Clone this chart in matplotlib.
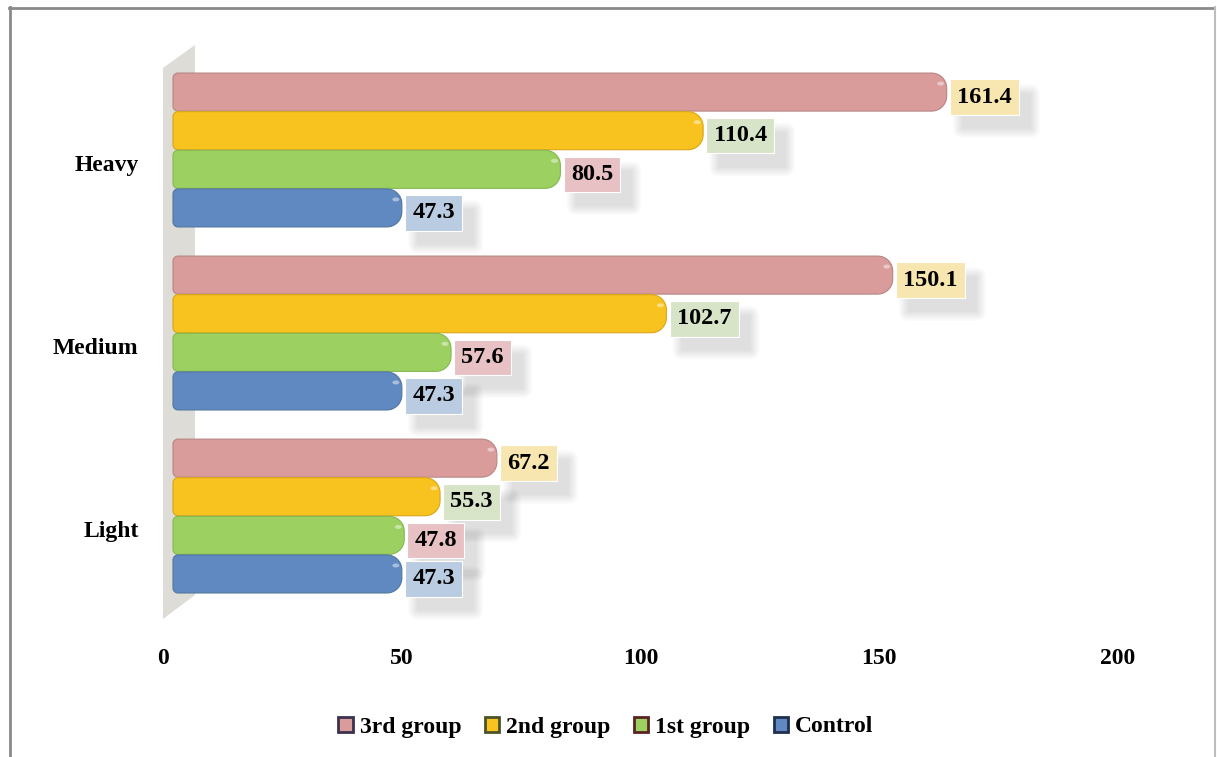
import matplotlib
matplotlib.use("Agg")
import matplotlib.pyplot as plt
import matplotlib.transforms as mtrans
from matplotlib.patches import Polygon, Patch, Ellipse, FancyBboxPatch
from matplotlib.lines import Line2D
import numpy as np

plt.rcParams['font.family'] = ['Liberation Serif', 'DejaVu Serif']
plt.rcParams['font.weight'] = 'bold'

# data ----
categories = ["Light", "Medium", "Heavy"]
series = ["3rd group", "2nd group", "1st group", "Control"]
third = [67.2, 150.1, 161.4]
second = [55.3, 102.7, 110.4]
first = [47.8, 57.6, 80.5]
control = [47.3, 47.3, 47.3]
xticks = [0, 50, 100, 150, 200]
# ---------

values = [third, second, first, control]
bar_cols = ["#D99C9B", "#F9C31F", "#9CD161", "#6089C1"]
edge_cols = ["#B88584", "#D9A515", "#84B84E", "#52779F"]
lab_cols = ["#F8E6B0", "#D8E4C8", "#E8C1C4", "#BACCE1"]
leg_edges = ["#3B3050", "#4A5328", "#5A2222", "#1F2F4F"]

W, H = 1217, 757
fig = plt.figure(figsize=(W / 100, H / 100), dpi=100)

# axes placement in pixels
ax_l, ax_r, ax_t, ax_b = 176, 1131, 40, 620
ax = fig.add_axes([ax_l / W, 1 - ax_b / H, (ax_r - ax_l) / W, (ax_b - ax_t) / H])
ax.set_xlim(0, 200)
ax.set_ylim(-0.568, 2.601)
for s in ax.spines.values():
    s.set_visible(False)
ax.patch.set_alpha(0)

xu = 200 / (ax_r - ax_l)          # x units per pixel
yu = 3.169 / (ax_b - ax_t)        # y units per pixel
bh = 0.211                        # bar height (category units)


def bar_shape(x1, yc, h, rl, rr, n=12):
    # rounded bar, corner radii in pixels, starts 3px left of zero
    x0 = -3 * xu
    y0, y1 = yc - h / 2, yc + h / 2
    pts = []
    t = np.linspace(0, np.pi / 2, n)
    cx, cy = x1 - rr * xu, y0 + rr * yu
    pts += list(zip(cx + rr * xu * np.sin(t), cy - rr * yu * np.cos(t)))
    cy = y1 - rr * yu
    pts += list(zip(cx + rr * xu * np.cos(t), cy + rr * yu * np.sin(t)))
    cx, cy = x0 + rl * xu, y1 - rl * yu
    pts += list(zip(cx - rl * xu * np.sin(t), cy + rl * yu * np.cos(t)))
    cy = y0 + rl * yu
    pts += list(zip(cx - rl * xu * np.cos(t), cy - rl * yu * np.sin(t)))
    return pts


# 3D-like side wall (decoration, behind bars)
wall = Polygon([(163 / W, 1 - 68 / H), (195 / W, 1 - 45 / H),
                (195 / W, 1 - 595 / H), (163 / W, 1 - 619 / H)],
               closed=True, transform=fig.transFigure, facecolor="#DDDCD6",
               edgecolor="none", zorder=0, clip_on=False)
ax.add_patch(wall)

offsets = [1.5, 0.5, -0.5, -1.5]
labels = []
for i, (vals, off) in enumerate(zip(values, offsets)):
    for c, v in enumerate(vals):
        yc = c + off * bh
        shape = bar_shape(v, yc, bh * 0.985, 5, 15)
        ax.add_patch(Polygon(shape, closed=True, facecolor=bar_cols[i],
                             edgecolor=edge_cols[i], linewidth=0.8, zorder=3,
                             clip_on=False))
        ax.add_patch(Ellipse((v - 6 * xu, yc + bh * 0.22), 7 * xu, 4 * yu,
                             facecolor="white", alpha=0.45,
                             edgecolor="none", zorder=4))
        t = ax.annotate(f"{v:.1f}", (v, yc), xytext=(7.5, -3.6),
                        textcoords="offset points", ha="left", va="center",
                        fontsize=17.5, fontweight="bold", color="black",
                        bbox=dict(boxstyle="square,pad=0.3", facecolor=lab_cols[i],
                                  edgecolor="white", linewidth=0.8),
                        zorder=5)
        labels.append(t)

ax.set_xticks(xticks)
ax.set_xticklabels([str(t) for t in xticks], fontsize=17, fontweight="bold")
ax.set_yticks(range(len(categories)))
ax.set_yticklabels(categories, fontsize=17, fontweight="bold")
ax.tick_params(axis="both", length=0)
ax.tick_params(axis="x", pad=20)
ax.tick_params(axis="y", pad=27)
xoff = mtrans.ScaledTranslation(-13 / 100, 0, fig.dpi_scale_trans)
yoff = mtrans.ScaledTranslation(0, -13 / 100, fig.dpi_scale_trans)
for lab in ax.get_xticklabels():
    lab.set_transform(lab.get_transform() + xoff)
for lab in ax.get_yticklabels():
    lab.set_transform(lab.get_transform() + yoff)

# soft shadows behind the value boxes
fig.canvas.draw()
rend = fig.canvas.get_renderer()
for t in labels:
    bb = t.get_bbox_patch().get_window_extent(rend)
    for k in range(8):
        g = 9 - k * 1.3
        sh = FancyBboxPatch((bb.x0 + 12 - g, bb.y0 - 14 - g), bb.width + 2 * g,
                            bb.height + 2 * g,
                            boxstyle=f"round,pad=0,rounding_size={g + 1}",
                            transform=mtrans.IdentityTransform(),
                            facecolor="black", edgecolor="none", alpha=0.016,
                            zorder=1, clip_on=False)
        ax.add_patch(sh)

# legend
handles = [Patch(facecolor=bar_cols[i], edgecolor=leg_edges[i], linewidth=2,
                 label=series[i]) for i in range(4)]
fig.legend(handles=handles, loc="center", bbox_to_anchor=(606 / W, 1 - 727 / H),
           ncol=4, frameon=False, handlelength=0.6,
           handleheight=0.6, handletextpad=0.3, columnspacing=1.0,
           prop=dict(weight="bold", size=17))

# outer frame
fig.lines.append(Line2D([9.5 / W, 9.5 / W], [0, 1 - 7 / H], transform=fig.transFigure,
                        color="#8A8A8A", linewidth=2))
fig.lines.append(Line2D([9 / W, 1214 / W], [1 - 7.5 / H, 1 - 7.5 / H],
                        transform=fig.transFigure, color="#8A8A8A", linewidth=2))
fig.lines.append(Line2D([1214.5 / W, 1214.5 / W], [0, 1 - 7 / H],
                        transform=fig.transFigure, color="#BDBDBD", linewidth=1.5))

fig.savefig("out.png", dpi=100)
